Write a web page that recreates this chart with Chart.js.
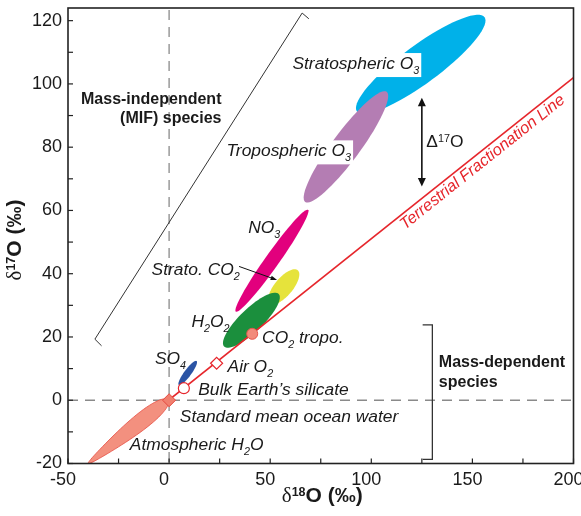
<!DOCTYPE html>
<html>
<head>
<meta charset="utf-8">
<script src="https://cdn.jsdelivr.net/npm/chart.js@4.4.1/dist/chart.umd.min.js"></script>
<style>
  html, body { margin: 0; padding: 0; background: #ffffff; }
  #wrap { width: 581px; height: 516px; }
</style>
</head>
<body>
<div id="wrap"><canvas id="c" width="581" height="516"></canvas></div>
<script>
// ---- Axis ticks -------------------------------------------------------
const xTicks = [-50, 0, 50, 100, 150, 200];
const yTicks = [-20, 0, 20, 40, 60, 80, 100, 120];

// ---- Terrestrial fractionation line (δ18O, δ17O end points) -----------
const tflD18 = [-39.5, 200];
const tflD17 = [-20, 102];

// ---- Reference materials on the line ------------------------------------
const refNames = ['Standard mean ocean water', 'Bulk Earth silicate', 'Air O2', 'CO2 tropo.'];
const refD18 = [0, 7.3, 23.5, 41.1];
const refD17 = [0, 3.8, 11.7, 21.0];

// ---- Species fields: both ends of each field's long axis ---------------
const fieldNames = ['Stratospheric O3', 'Tropospheric O3', 'NO3', 'Strato. CO2', 'H2O2', 'SO4', 'Atmospheric H2O'];
const fieldD18a = [92.9, 67.3, 33.0, 49.8, 27.2, 4.8, -40.0];
const fieldD17a = [91.3, 62.7, 28.0, 30.6, 17.0, 4.8, -20.0];
const fieldD18b = [156.0, 107.6, 68.7, 63.6, 54.2, 13.6, -0.4];
const fieldD17b = [121.1, 97.5, 60.2, 41.1, 33.6, 12.4, 0.1];

// ---- Δ17O span and group brackets -----------------------------------------
const capD18 = 125;
const capD17 = [67.6, 95.6];
const mifBracketD18 = [-33.4, -36.7, 65.8, 69.1];
const mifBracketD17 = [17.2, 19.3, 122.4, 120.6];
const mdfBracketD18 = [125.4, 130.2, 130.2, 125.4];
const mdfBracketD17 = [23.8, 23.8, -18.7, -18.7];

// ---- Styling ---------------------------------------------------------------
const SANS = '"Liberation Sans", Arial, sans-serif';
const SERIF = '"Liberation Serif", "DejaVu Serif", serif';
const INK = '#1a1a1a';
const RED = '#e6262c';

// half = half-width in px, bulge skews the widest point toward end "b",
// top = drawn over the fractionation line
const fieldStyle = [
  { fill: '#00b1e9', half: 19 },
  { fill: '#b47db3', half: 14 },
  { fill: '#e2007d', half: 7 },
  { fill: '#e6e33b', half: 9 },
  { fill: '#1b8f3d', half: 11.5 },
  { fill: '#2b54a5', half: 3.5 },
  { fill: '#f3907f', half: 7.4, bulge: 0.5, stroke: '#e8574c', top: true }
];

// Text annotations anchored in data units (left/right edge, baseline)
const notes = [
  { t: 'Stratospheric O_{3}', x: 61.0, y: 104.7, w: 'italic', box: true },
  { t: 'Tropospheric O_{3}', x: 28.4, y: 77.1, w: 'italic', box: true },
  { t: 'NO_{3}', x: 39.1, y: 52.8, w: 'italic' },
  { t: 'Strato. CO_{2}', x: -8.65, y: 39.6, w: 'italic' },
  { t: 'H_{2}O_{2}', x: 11.1, y: 23.3, w: 'italic' },
  { t: 'SO_{4}', x: -7.0, y: 11.4, w: 'italic' },
  { t: 'Air O_{2}', x: 28.9, y: 9.0, w: 'italic' },
  { t: 'CO_{2} tropo.', x: 46.0, y: 18.0, w: 'italic' },
  { t: 'Bulk Earth\u2019s silicate', x: 14.4, y: 1.7, w: 'italic' },
  { t: 'Standard mean ocean water', x: 5.3, y: -6.8, w: 'italic' },
  { t: 'Atmospheric H_{2}O', x: -19.4, y: -15.7, w: 'italic' },
  { t: '\u0394^{17}O', x: 127.2, y: 80.2, w: 'normal' },
  { t: 'Mass-independent', x: 25.9, y: 93.7, w: 'bold', align: 'right' },
  { t: '(MIF) species', x: 25.9, y: 87.6, w: 'bold', align: 'right' },
  { t: 'Mass-dependent', x: 133.4, y: 10.4, w: 'bold' },
  { t: 'species', x: 133.4, y: 4.3, w: 'bold' }
];

// Split "a_{b}c^{d}" into plain / subscript / superscript runs
function parseRich(str, base, size) {
  const out = [];
  str.split(/(_\{[^}]*\}|\^\{[^}]*\})/).forEach(s => {
    if (!s) return;
    if (s[0] === '_') out.push({ t: s.slice(2, -1), font: `${base} ${size * 0.62}px ${SANS}`, dy: 5 });
    else if (s[0] === '^') out.push({ t: s.slice(2, -1), font: `${base} ${size * 0.62}px ${SANS}`, dy: -5 });
    else out.push({ t: s, font: `${base} ${size}px ${SANS}`, dy: 0 });
  });
  return out;
}

function drawRuns(ctx, runs, x, y, align) {
  let w = 0;
  runs.forEach(r => { ctx.font = r.font; r.w = ctx.measureText(r.t).width; w += r.w; });
  let cx = align === 'right' ? x - w : align === 'center' ? x - w / 2 : x;
  const start = cx;
  runs.forEach(r => { ctx.font = r.font; ctx.fillText(r.t, cx, y + r.dy); cx += r.w; });
  return { left: start, width: w };
}

function arrowHead(ctx, x, y, ang, len, wid) {
  ctx.beginPath();
  ctx.moveTo(x, y);
  ctx.lineTo(x - len * Math.cos(ang) + wid / 2 * Math.sin(ang), y - len * Math.sin(ang) - wid / 2 * Math.cos(ang));
  ctx.lineTo(x - len * Math.cos(ang) - wid / 2 * Math.sin(ang), y - len * Math.sin(ang) + wid / 2 * Math.cos(ang));
  ctx.closePath();
  ctx.fill();
}

// Draw the species fields (ellipse-like outlines along their long axis)
function drawFields(chart, onTop) {
  const { ctx, chartArea: a, scales: { x, y } } = chart;
  ctx.save();
  ctx.beginPath(); ctx.rect(a.left, a.top, a.right - a.left, a.bottom - a.top); ctx.clip();
  fieldNames.forEach((n, i) => {
    const st = fieldStyle[i];
    if (!!st.top !== onTop) return;
    const x1 = x.getPixelForValue(fieldD18a[i]), y1 = y.getPixelForValue(fieldD17a[i]);
    const x2 = x.getPixelForValue(fieldD18b[i]), y2 = y.getPixelForValue(fieldD17b[i]);
    const mx = (x1 + x2) / 2, my = (y1 + y2) / 2;
    const len = Math.hypot(x2 - x1, y2 - y1) / 2;
    const ang = Math.atan2(y2 - y1, x2 - x1);
    const k = st.bulge || 0;
    ctx.save();
    ctx.translate(mx, my);
    ctx.rotate(ang);
    ctx.beginPath();
    const N = 72;
    for (let j = 0; j <= N; j++) {
      const t = Math.PI * 2 * j / N;
      const s = Math.cos(t);
      const w = st.half * Math.sin(t) * (1 + k * s);
      if (j === 0) ctx.moveTo(len * s, w); else ctx.lineTo(len * s, w);
    }
    ctx.closePath();
    ctx.fillStyle = st.fill;
    ctx.fill();
    if (st.stroke) { ctx.strokeStyle = st.stroke; ctx.lineWidth = 0.8; ctx.stroke(); }
    ctx.restore();
  });
  ctx.restore();
}

const decor = {
  id: 'decor',
  beforeDatasetsDraw(chart) {
    const { ctx, chartArea: a, scales: { x, y } } = chart;
    const x0 = x.getPixelForValue(0), y0 = y.getPixelForValue(0);
    ctx.save();
    ctx.strokeStyle = '#8a8a8a';
    ctx.lineWidth = 1.3;
    ctx.setLineDash([10, 7]);
    ctx.beginPath(); ctx.moveTo(x0, a.top + 2); ctx.lineTo(x0, a.bottom); ctx.stroke();
    ctx.beginPath(); ctx.moveTo(a.left, y0); ctx.lineTo(a.right, y0); ctx.stroke();
    ctx.restore();
    drawFields(chart, false);
  },
  afterDatasetDraw(chart, args) {
    if (args.index === 0) drawFields(chart, true);
  },
  afterDatasetsDraw(chart) {
    const { ctx, chartArea: a, scales: { x, y } } = chart;
    ctx.save();
    ctx.textBaseline = 'alphabetic';
    // annotations
    notes.forEach(n => {
      const size = n.w === 'bold' ? 16 : 17.4;
      const base = n.w === 'normal' ? '' : n.w;
      const runs = parseRich(n.t, base, size);
      const px = x.getPixelForValue(n.x), py = y.getPixelForValue(n.y);
      if (n.box) {
        let w = 0;
        runs.forEach(r => { ctx.font = r.font; w += ctx.measureText(r.t).width; });
        ctx.fillStyle = '#ffffff';
        ctx.fillRect(px - 2, py - 16, w + 4, 24);
      }
      ctx.fillStyle = INK;
      drawRuns(ctx, runs, px, py, n.align || 'left');
    });

    // label along the fractionation line
    const lx1 = x.getPixelForValue(tflD18[0]), ly1 = y.getPixelForValue(tflD17[0]);
    const lx2 = x.getPixelForValue(tflD18[1]), ly2 = y.getPixelForValue(tflD17[1]);
    const ang = Math.atan2(ly2 - ly1, lx2 - lx1);
    const ax = x.getPixelForValue(112.3), ay = y.getPixelForValue(57.3);
    ctx.save();
    ctx.translate(ax, ay);
    ctx.rotate(ang);
    ctx.fillStyle = RED;
    ctx.font = `italic 16.3px ${SANS}`;
    ctx.fillText('Terrestrial Fractionation Line', 0, 14);
    ctx.restore();

    // Δ17O double arrow
    const cx = x.getPixelForValue(capD18);
    const cy1 = y.getPixelForValue(capD17[0]), cy2 = y.getPixelForValue(capD17[1]);
    ctx.strokeStyle = '#111'; ctx.fillStyle = '#111'; ctx.lineWidth = 1.6;
    ctx.beginPath(); ctx.moveTo(cx, cy1 - 6); ctx.lineTo(cx, cy2 + 6); ctx.stroke();
    arrowHead(ctx, cx, cy1, Math.PI / 2, 8.5, 8);
    arrowHead(ctx, cx, cy2, -Math.PI / 2, 8.5, 8);

    // pointer from the Strato. CO2 label
    const sx1 = x.getPixelForValue(34.6), sy1 = y.getPixelForValue(42.3);
    const sx2 = x.getPixelForValue(53.4), sy2 = y.getPixelForValue(38.0);
    const pa = Math.atan2(sy2 - sy1, sx2 - sx1);
    ctx.lineWidth = 1;
    ctx.beginPath(); ctx.moveTo(sx1, sy1); ctx.lineTo(sx2 - 4 * Math.cos(pa), sy2 - 4 * Math.sin(pa)); ctx.stroke();
    arrowHead(ctx, sx2, sy2, pa, 6.5, 4.5);

    // axis titles
    ctx.fillStyle = INK;
    const title = sup => [
      { t: '\u03b4', font: `21px ${SERIF}`, dy: 0 },
      { t: sup, font: `bold 12.5px ${SANS}`, dy: -6 },
      { t: 'O (\u2030)', font: `bold 21px ${SANS}`, dy: 0 }
    ];
    drawRuns(ctx, title('18'), (a.left + a.right) / 2 + 1.5, 502, 'center');
    ctx.save();
    ctx.translate(20.5, 240);
    ctx.rotate(-Math.PI / 2);
    drawRuns(ctx, title('17'), 0, 0, 'center');
    ctx.restore();
    ctx.restore();
  },
  afterDraw(chart) {
    const { ctx, chartArea: a, scales: { x, y } } = chart;
    ctx.save();
    ctx.strokeStyle = '#222';
    // inward tick marks
    ctx.lineWidth = 1.2;
    for (let v = -50; v <= 200; v += 25) {
      const p = x.getPixelForValue(v);
      ctx.beginPath(); ctx.moveTo(p, a.bottom); ctx.lineTo(p, a.bottom - 5); ctx.stroke();
    }
    for (let v = -20; v <= 120; v += 10) {
      const p = y.getPixelForValue(v);
      ctx.beginPath(); ctx.moveTo(a.left, p); ctx.lineTo(a.left + 5, p); ctx.stroke();
    }
    // frame
    ctx.lineWidth = 1.6;
    ctx.strokeRect(a.left, a.top, a.right - a.left, a.bottom - a.top);
    ctx.restore();
  }
};

const pts = (xs, ys) => xs.map((v, i) => ({ x: v, y: ys[i] }));

new Chart(document.getElementById('c'), {
  type: 'scatter',
  data: {
    datasets: [
      {
        label: 'Terrestrial Fractionation Line',
        data: pts(tflD18, tflD17),
        showLine: true, borderColor: RED, borderWidth: 1.6,
        pointRadius: 0, order: 5
      },
      {
        label: 'Mass-independent',
        data: pts(mifBracketD18, mifBracketD17),
        showLine: true, borderColor: '#333', borderWidth: 1,
        pointRadius: 0, order: 4
      },
      {
        label: 'Mass-dependent',
        data: pts(mdfBracketD18, mdfBracketD17),
        showLine: true, borderColor: '#333', borderWidth: 1.3,
        pointRadius: 0, order: 3
      },
      {
        label: 'Reference materials',
        data: pts(refD18, refD17),
        showLine: false,
        pointStyle: ['rectRot', 'circle', 'rectRot', 'circle'],
        pointRadius: [6.5, 5.5, 6, 5.5],
        backgroundColor: ['#f07f6e', '#ffffff', '#ffffff', '#f28a7a'],
        borderColor: ['#e5483f', RED, RED, '#e5574d'],
        borderWidth: [1, 1.2, 1.2, 1],
        order: 0
      }
    ]
  },
  options: {
    responsive: false,
    devicePixelRatio: 1,
    animation: false,
    events: [],
    layout: { padding: { top: 8, right: 7, bottom: 0, left: 0 } },
    plugins: { legend: { display: false }, tooltip: { enabled: false } },
    scales: {
      x: {
        type: 'linear', min: -50, max: 200,
        grid: { display: false, drawTicks: false, tickLength: 0 }, border: { display: false },
        ticks: { font: { family: SANS, size: 18 }, color: INK, padding: 6, labelOffset: -5 },
        afterBuildTicks: s => { s.ticks = xTicks.map(v => ({ value: v })); },
        afterFit: s => { s.height = 52.5; s.paddingLeft = 0; s.paddingRight = 0; }
      },
      y: {
        type: 'linear', min: -20, max: 124,
        grid: { display: false, drawTicks: false, tickLength: 0 }, border: { display: false },
        ticks: { font: { family: SANS, size: 18 }, color: INK, padding: 6 },
        afterBuildTicks: s => { s.ticks = yTicks.map(v => ({ value: v })); },
        afterFit: s => { s.width = 68; s.paddingTop = 0; s.paddingBottom = 0; }
      }
    }
  },
  plugins: [decor]
});
</script>
</body>
</html>
